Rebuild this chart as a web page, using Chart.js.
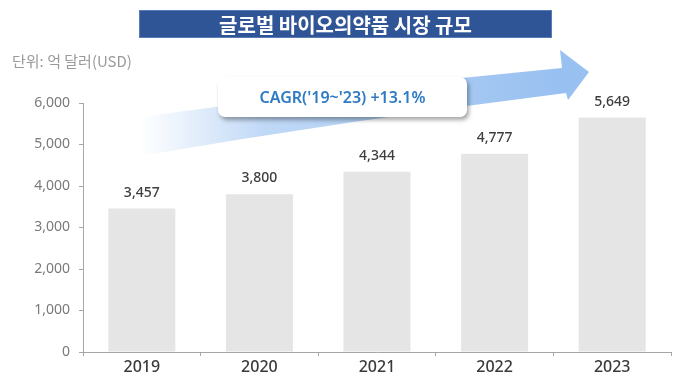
<!DOCTYPE html>
<html>
<head>
<meta charset="utf-8">
<script src="https://cdn.jsdelivr.net/npm/chart.js@4"></script>
<style>
  html, body { margin:0; padding:0; background:#fff; }
  #wrap { position:relative; width:680px; height:383px; overflow:hidden; }
  #c { position:absolute; left:0; top:0; }
  .title { position:absolute; left:139px; top:10px; width:413px; height:28px; background:#2F5597;
    color:#fff; font:bold 20px "Noto Sans CJK KR", sans-serif; text-align:center; line-height:27px; box-sizing:border-box; border:1px solid #5A7AB8; }
  .unit { position:absolute; left:12px; top:50px; font:15px "Noto Sans CJK KR", sans-serif; color:#9a9a9a; }
  .cagr { position:absolute; left:218px; top:77px; width:249px; height:40px; background:#fff; border-radius:7px;
    box-shadow:2px 3px 4px rgba(0,0,0,0.35); color:#2E7BC4; font:600 16px "Noto Sans", sans-serif; text-align:center; line-height:40px; }
</style>
</head>
<body>
<div id="wrap">
  <canvas id="c" width="680" height="383"></canvas>
  <div class="title">글로벌 바이오의약품 시장 규모</div>
  <div class="unit">단위: 억 달러(USD)</div>
  <div class="cagr">CAGR('19~'23) +13.1%</div>
</div>
<script>
const years = ['2019', '2020', '2021', '2022', '2023'];
const marketSize = [3457, 3800, 4344, 4777, 5649];
const yTicks = [0, 1000, 2000, 3000, 4000, 5000, 6000];

const fmt = v => v.toLocaleString('en-US');

const arrowPlugin = {
  id: 'arrowBg',
  beforeDraw(chart) {
    const ctx = chart.ctx;
    ctx.save();
    const g = ctx.createLinearGradient(140, 0, 560, 0);
    g.addColorStop(0, 'rgba(157,195,241,0)');
    g.addColorStop(0.3, 'rgba(157,195,241,0.65)');
    g.addColorStop(1, 'rgba(152,192,241,1)');
    ctx.fillStyle = g;
    ctx.beginPath();
    ctx.moveTo(140, 117);
    ctx.quadraticCurveTo(350, 88, 562, 68);
    ctx.lineTo(560, 50);
    ctx.lineTo(589, 72);
    ctx.lineTo(568, 100);
    ctx.lineTo(566, 93);
    ctx.quadraticCurveTo(350, 120, 140, 156);
    ctx.closePath();
    ctx.fill();
    ctx.restore();
  }
};

const labelPlugin = {
  id: 'valueLabels',
  afterDatasetsDraw(chart) {
    const ctx = chart.ctx;
    const meta = chart.getDatasetMeta(0);
    ctx.save();
    ctx.font = '500 14px "Noto Sans", sans-serif';
    ctx.fillStyle = '#3d3d3d';
    ctx.textAlign = 'center';
    ctx.textBaseline = 'middle';
    meta.data.forEach((bar, i) => {
      ctx.fillText(fmt(marketSize[i]), bar.x, bar.y - 16);
    });
    ctx.restore();
  }
};

new Chart(document.getElementById('c'), {
  type: 'bar',
  data: {
    labels: years,
    datasets: [{
      data: marketSize,
      backgroundColor: '#E5E5E5',
      borderWidth: 0,
      barPercentage: 0.57,
      categoryPercentage: 1.0
    }]
  },
  options: {
    responsive: false,
    animation: false,
    devicePixelRatio: 1,
    layout: { padding: { left: 0, top: 103, right: 9, bottom: 0 } },
    plugins: { legend: { display: false }, tooltip: { enabled: false } },
    scales: {
      x: {
        grid: { drawOnChartArea: false, drawTicks: true, tickLength: 4, color: '#A6A6A6', offset: true },
        border: { display: true, color: '#A6A6A6', width: 1 },
        ticks: { color: '#3a3a3a', font: { family: '"Noto Sans", sans-serif', size: 16, weight: '500' }, padding: 2 },
        afterFit(s) { s.height = 31; }
      },
      y: {
        min: 0, max: 6000,
        afterBuildTicks(s) { s.ticks = yTicks.map(v => ({ value: v })); },
        grid: { drawOnChartArea: false, drawTicks: true, tickLength: 4, color: '#A6A6A6' },
        border: { display: true, color: '#A6A6A6', width: 1 },
        ticks: { color: '#7a7a7a', font: { family: '"Noto Sans", sans-serif', size: 14 }, padding: 9, callback: v => fmt(v) },
        afterFit(s) { s.width = 83; }
      }
    }
  },
  plugins: [arrowPlugin, labelPlugin]
});
</script>
</body>
</html>
